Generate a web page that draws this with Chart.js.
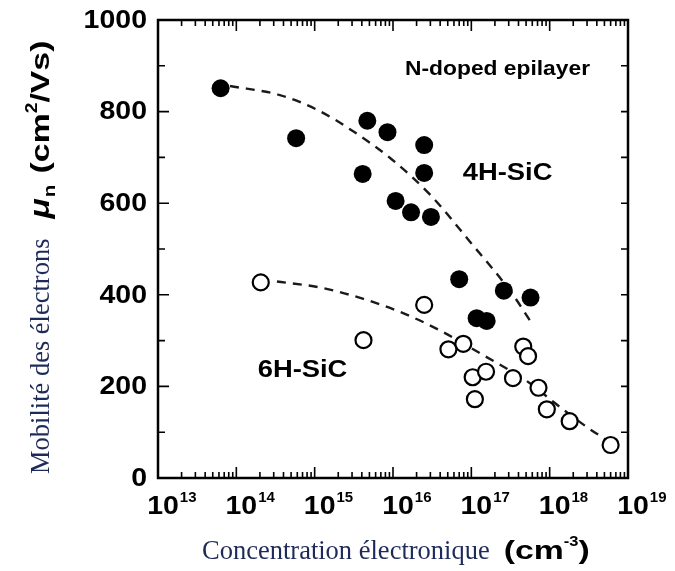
<!DOCTYPE html>
<html>
<head>
<meta charset="utf-8">
<script src="https://cdn.jsdelivr.net/npm/chart.js"></script>
<style>
  html, body { margin: 0; padding: 0; background: #fff; }
  #wrap { width: 675px; height: 571px; }
</style>
</head>
<body>
<div id="wrap"><canvas id="mobility" width="675" height="571"></canvas></div>
<script>
  // Measured electron mobility (cm2/Vs) against electron concentration (cm-3)
  const conc4H = [6.3e13, 5.8e14, 4.7e15, 8.5e15, 2.5e16, 4.1e15, 2.5e16, 1.08e16, 1.7e16, 3.05e16, 7.0e16, 2.6e17, 5.7e17, 1.17e17, 1.57e17];
  const mu4H = [851, 742, 780, 755, 727, 664, 666, 605, 580, 570, 434, 409, 394, 349, 343];

  const conc6H = [2.05e14, 2.5e16, 4.2e15, 5.1e16, 7.9e16, 4.6e17, 5.3e17, 1.04e17, 1.54e17, 1.11e17, 3.4e17, 7.2e17, 9.2e17, 1.8e18, 6.0e18];
  const mu6H = [427, 378, 301, 281, 293, 287, 266, 220, 232, 172, 218, 197, 150, 124, 72];

  // Dashed guide curves
  const fitConc4H = [8.3e13, 3.6e14, 1.1e15, 3.1e15, 9.6e15, 3.0e16, 9.6e16, 3.3e17, 5.9e17];
  const fitMu4H = [856, 836, 803, 757, 696, 618, 516, 403, 338];

  const fitConc6H = [3.3e14, 1.17e15, 4.2e15, 1.3e16, 4.0e16, 1.3e17, 5.6e17, 1.1e18, 3.0e18, 5.3e18];
  const fitMu6H = [429, 416, 391, 361, 322, 272, 207, 167, 111, 83];

  const decadeExponents = [13, 14, 15, 16, 17, 18, 19];
  const yTickValues = [0, 200, 400, 600, 800, 1000];

  const SANS = '"Liberation Sans", Arial, sans-serif';
  const SERIF = '"Liberation Serif", "Times New Roman", serif';
  const NAVY = '#1e2b5a';
  const STRETCH = 1.14;
  const UNIT_STRETCH = 1.3;

  function toPoints(xs, ys) {
    return xs.map((x, i) => ({ x, y: ys[i] }));
  }

  // Draw a sequence of text runs along the current x axis, each with its own font and baseline shift
  function drawRuns(ctx, runs, x, y) {
    let cursor = x;
    runs.forEach((run) => {
      ctx.font = run.font;
      ctx.fillStyle = run.color || '#000';
      const sx = run.sx || 1;
      ctx.save();
      ctx.translate(cursor, y + (run.dy || 0));
      ctx.scale(sx, 1);
      ctx.textAlign = 'left';
      ctx.textBaseline = 'alphabetic';
      ctx.fillText(run.text, 0, 0);
      ctx.restore();
      cursor += ctx.measureText(run.text).width * sx + (run.gap || 0);
    });
    return cursor;
  }

  function stretchedText(ctx, text, x, y, font, align, sx) {
    ctx.save();
    ctx.font = font;
    ctx.fillStyle = '#000';
    ctx.textBaseline = 'middle';
    const w = ctx.measureText(text).width * sx;
    let left = x;
    if (align === 'right') left = x - w;
    else if (align === 'center') left = x - w / 2;
    ctx.translate(left, y);
    ctx.scale(sx, 1);
    ctx.textAlign = 'left';
    ctx.fillText(text, 0, 0);
    ctx.restore();
  }

  const framePlugin = {
    id: 'frame',
    afterDraw(chart) {
      const { ctx, chartArea: a, scales } = chart;
      const xs = scales.x;
      const ys = scales.y;

      ctx.save();
      ctx.strokeStyle = '#000';
      ctx.lineWidth = 2.5;
      ctx.strokeRect(a.left, a.top, a.right - a.left, a.bottom - a.top);

      // inward ticks on all four sides
      ctx.lineWidth = 1.6;
      ctx.beginPath();
      for (let e = 13; e < 19; e += 1) {
        for (let m = 1; m <= 9; m += 1) {
          const px = xs.getPixelForValue(m * Math.pow(10, e));
          const len = m === 1 ? 11 : 6;
          ctx.moveTo(px, a.bottom);
          ctx.lineTo(px, a.bottom - len);
          ctx.moveTo(px, a.top);
          ctx.lineTo(px, a.top + len);
        }
      }
      for (let v = 100; v < 1000; v += 100) {
        const py = ys.getPixelForValue(v);
        const len = v % 200 === 0 ? 11 : 7;
        ctx.moveTo(a.left, py);
        ctx.lineTo(a.left + len, py);
        ctx.moveTo(a.right, py);
        ctx.lineTo(a.right - 7, py);
      }
      ctx.stroke();

      // y tick labels
      yTickValues.forEach((v) => {
        stretchedText(ctx, String(v), a.left - 11, ys.getPixelForValue(v) + 1, 'bold 25px ' + SANS, 'right', STRETCH);
      });

      // x tick labels as powers of ten
      decadeExponents.forEach((e) => {
        const px = xs.getPixelForValue(Math.pow(10, e));
        ctx.font = 'bold 25px ' + SANS;
        const baseW = ctx.measureText('10').width * STRETCH;
        const left = px + 5 - baseW / 2;
        drawRuns(ctx, [
          { text: '10', font: 'bold 25px ' + SANS, sx: STRETCH, gap: 1 },
          { text: String(e), font: 'bold 15px ' + SANS, sx: 1.0, dy: -12 },
        ], left, a.bottom + 36);
      });

      // x axis title
      drawRuns(ctx, [
        { text: 'Concentration électronique', font: '26.5px ' + SERIF, color: NAVY, gap: 14 },
        { text: '(cm', font: 'bold 26px ' + SANS, sx: UNIT_STRETCH },
        { text: '-3', font: 'bold 15px ' + SANS, dy: -13, sx: 1.1 },
        { text: ')', font: 'bold 26px ' + SANS, sx: UNIT_STRETCH },
      ], 202, 559);

      // y axis title, rotated
      ctx.save();
      ctx.translate(49, 474);
      ctx.rotate(-Math.PI / 2);
      drawRuns(ctx, [
        { text: 'Mobilité des électrons', font: '26.5px ' + SERIF, color: NAVY, gap: 20 },
        { text: 'μ', font: 'bold italic 28px ' + SANS, sx: 1.2, gap: 1 },
        { text: 'n', font: 'bold 17px ' + SANS, dy: 6, sx: 1.2, gap: 2 },
        { text: ' (cm', font: 'bold 26px ' + SANS, sx: UNIT_STRETCH },
        { text: '2', font: 'bold 16px ' + SANS, dy: -12, sx: 1.2 },
        { text: '/Vs)', font: 'bold 26px ' + SANS, sx: UNIT_STRETCH },
      ], 0, 0);
      ctx.restore();

      // annotations, placed in data coordinates
      stretchedText(ctx, 'N-doped epilayer', xs.getPixelForValue(2.16e17), ys.getPixelForValue(891), 'bold 20px ' + SANS, 'center', STRETCH);
      stretchedText(ctx, '4H-SiC', xs.getPixelForValue(2.9e17), ys.getPixelForValue(666), 'bold 24px ' + SANS, 'center', STRETCH);
      stretchedText(ctx, '6H-SiC', xs.getPixelForValue(7e14), ys.getPixelForValue(236), 'bold 24px ' + SANS, 'center', STRETCH);

      ctx.restore();
    },
  };

  const dashed = {
    type: 'line',
    showLine: true,
    pointRadius: 0,
    borderColor: '#1a1a1a',
    borderWidth: 2.4,
    borderDash: [9, 7],
    cubicInterpolationMode: 'monotone',
    fill: false,
    order: 2,
  };

  new Chart(document.getElementById('mobility'), {
    type: 'scatter',
    data: {
      datasets: [
        { ...dashed, label: 'fit 4H', data: toPoints(fitConc4H, fitMu4H) },
        { ...dashed, label: 'fit 6H', data: toPoints(fitConc6H, fitMu6H) },
        {
          label: '4H-SiC',
          data: toPoints(conc4H, mu4H),
          pointRadius: 9,
          pointBackgroundColor: '#000',
          pointBorderColor: '#000',
          pointBorderWidth: 0,
          order: 0,
        },
        {
          label: '6H-SiC',
          data: toPoints(conc6H, mu6H),
          pointRadius: 8,
          pointBackgroundColor: '#fff',
          pointBorderColor: '#000',
          pointBorderWidth: 2.2,
          order: 1,
        },
      ],
    },
    options: {
      responsive: false,
      animation: false,
      devicePixelRatio: 1,
      layout: { padding: { left: 158, top: 20, right: 47, bottom: 93 } },
      plugins: { legend: { display: false }, tooltip: { enabled: false } },
      scales: {
        x: { type: 'logarithmic', min: 1e13, max: 1e19, display: false },
        y: { type: 'linear', min: 0, max: 1000, display: false },
      },
    },
    plugins: [framePlugin],
  });
</script>
</body>
</html>
